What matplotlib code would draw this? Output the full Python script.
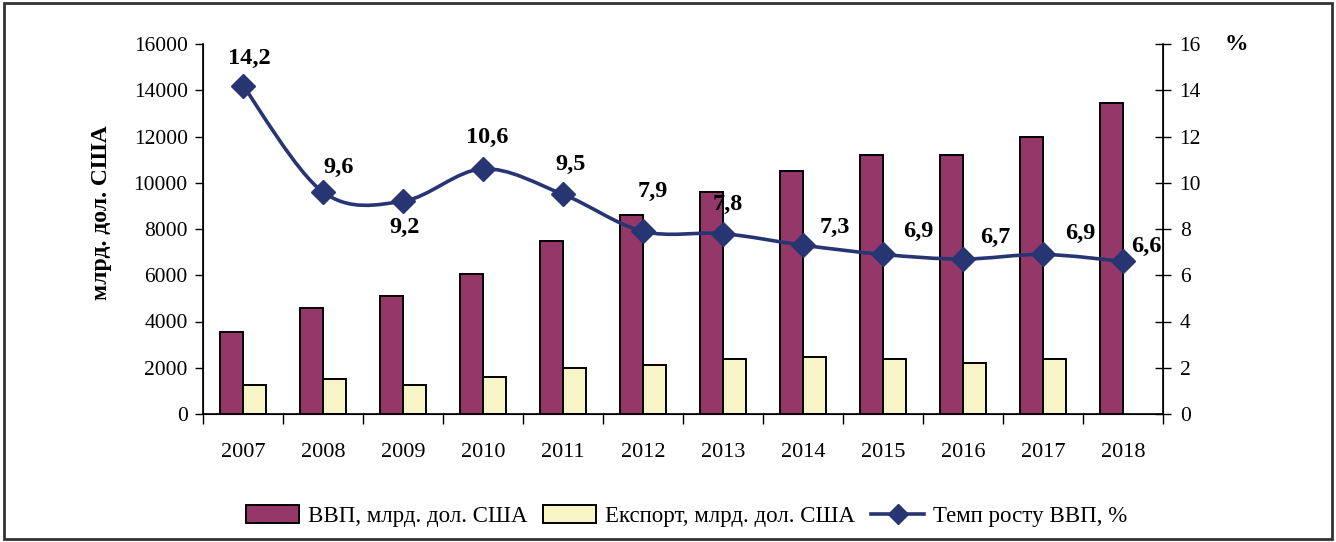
import numpy as np
import matplotlib
matplotlib.use("Agg")
import matplotlib.pyplot as plt
from matplotlib.path import Path
from matplotlib.patches import PathPatch, Rectangle
from matplotlib.lines import Line2D

plt.rcParams['font.family'] = ['Liberation Serif', 'DejaVu Serif']

years = ['2007', '2008', '2009', '2010', '2011', '2012', '2013', '2014', '2015', '2016', '2017', '2018']
gdp = [3550, 4600, 5100, 6050, 7500, 8600, 9600, 10500, 11200, 11200, 12000, 13450]
export = [1250, 1500, 1250, 1580, 1980, 2120, 2370, 2450, 2370, 2220, 2370, np.nan]
growth = [14.2, 9.6, 9.2, 10.6, 9.5, 7.9, 7.8, 7.3, 6.9, 6.7, 6.9, 6.6]
growth_labels = ['14,2', '9,6', '9,2', '10,6', '9,5', '7,9', '7,8', '7,3', '6,9', '6,7', '6,9', '6,6']
# label offsets in pixels (style only)
label_offsets = [(6, 27), (16, 25), (2, -26), (4, 31), (8, 30), (10, 40), (5, 29),
                 (32, 18), (35, 23), (32, 22), (37, 21), (23, 15)]

legend_names = ['ВВП, млрд. дол. США', 'Експорт, млрд. дол. США', 'Темп росту ВВП, %']

c_gdp = '#953769'
c_exp = '#F7F5C6'
c_line = '#283573'

W, H = 1336, 542
fig = plt.figure(figsize=(W / 100, H / 100), dpi=100)
ax = fig.add_axes([203 / W, 1 - 414 / H, (1163 - 203) / W, (414 - 44) / H])
ax2 = ax.twinx()

x = np.arange(len(years))
bw = 0.29
ax.bar(x - bw / 2, gdp, width=bw, color=c_gdp, edgecolor='black', linewidth=1.4, zorder=2)
ax.bar(x + bw / 2, export, width=bw, color=c_exp, edgecolor='black', linewidth=1.4, zorder=2)

ax.set_xlim(-0.5, len(years) - 0.5)
ax.set_ylim(0, 16000)
ax.set_yticks(np.arange(0, 16001, 2000))
ax.set_yticklabels([str(v) for v in range(0, 16001, 2000)], fontsize=15.5)
ax.tick_params(axis='y', direction='out', length=6, width=1, pad=5)

ax.set_xticks(np.arange(-0.5, len(years), 1.0))
ax.set_xticklabels([])
ax.tick_params(axis='x', which='major', direction='out', length=7, width=1)
ax.set_xticks(x, minor=True)
ax.set_xticklabels(years, minor=True, fontsize=16)
ax.tick_params(axis='x', which='minor', length=0, pad=21)

ax.spines['top'].set_visible(False)
ax2.spines['top'].set_visible(False)
for sp in ['left', 'bottom']:
    ax.spines[sp].set_linewidth(1.2)
ax2.spines['right'].set_linewidth(1.2)

ax.set_ylabel('млрд. дол. США', fontsize=17, fontweight='bold')
ax.yaxis.set_label_coords(-0.095, 0.545)

ax2.set_ylim(0, 16)
ax2.set_yticks(np.arange(0, 17, 2))
ax2.set_yticklabels([str(v) for v in range(0, 17, 2)], fontsize=15.5)
ax2.tick_params(axis='y', direction='inout', length=12, width=1, pad=6)

# smoothed line (Excel-style Bezier through the data points)
pts = np.column_stack([x, growth]).astype(float)
ext = np.vstack([pts[0], pts, pts[-1]])
verts = [tuple(pts[0])]
codes = [Path.MOVETO]
for i in range(len(pts) - 1):
    p0, p1, p2, p3 = ext[i], ext[i + 1], ext[i + 2], ext[i + 3]
    c1 = p1 + (p2 - p0) / 6
    c2 = p2 - (p3 - p1) / 6
    verts += [tuple(c1), tuple(c2), tuple(p2)]
    codes += [Path.CURVE4] * 3
ax2.add_patch(PathPatch(Path(verts, codes), facecolor='none', edgecolor=c_line,
                        linewidth=2.6, zorder=3))
ax2.plot(x, growth, linestyle='none', marker='D', markersize=12.5, color=c_line, zorder=4)

for xi, yi, lab, (dx, dy) in zip(x, growth, growth_labels, label_offsets):
    ax2.annotate(lab, (xi, yi), xytext=(dx, dy), textcoords='offset pixels',
                 ha='center', va='center', fontsize=17.5, fontweight='bold', zorder=5)

fig.text(1236 / W, 1 - 44 / H, '%', fontsize=17, fontweight='bold', ha='center', va='center')

handles = [Rectangle((0, 0), 1, 1, facecolor=c_gdp, edgecolor='black', linewidth=1.4),
           Rectangle((0, 0), 1, 1, facecolor=c_exp, edgecolor='black', linewidth=1.4),
           Line2D([], [], color=c_line, linewidth=2.6, marker='D', markersize=10)]
fig.legend(handles, legend_names, loc='center', bbox_to_anchor=(0.514, 1 - 516 / H), ncol=3,
           frameon=False, fontsize=16.5, handlelength=2.3, handleheight=0.8,
           handletextpad=0.4, columnspacing=0.7)

fig.add_artist(Rectangle((0.003, 0.005), 0.994, 0.99, transform=fig.transFigure,
                         fill=False, edgecolor='#333333', linewidth=2))

fig.savefig('out.png', dpi=100)
